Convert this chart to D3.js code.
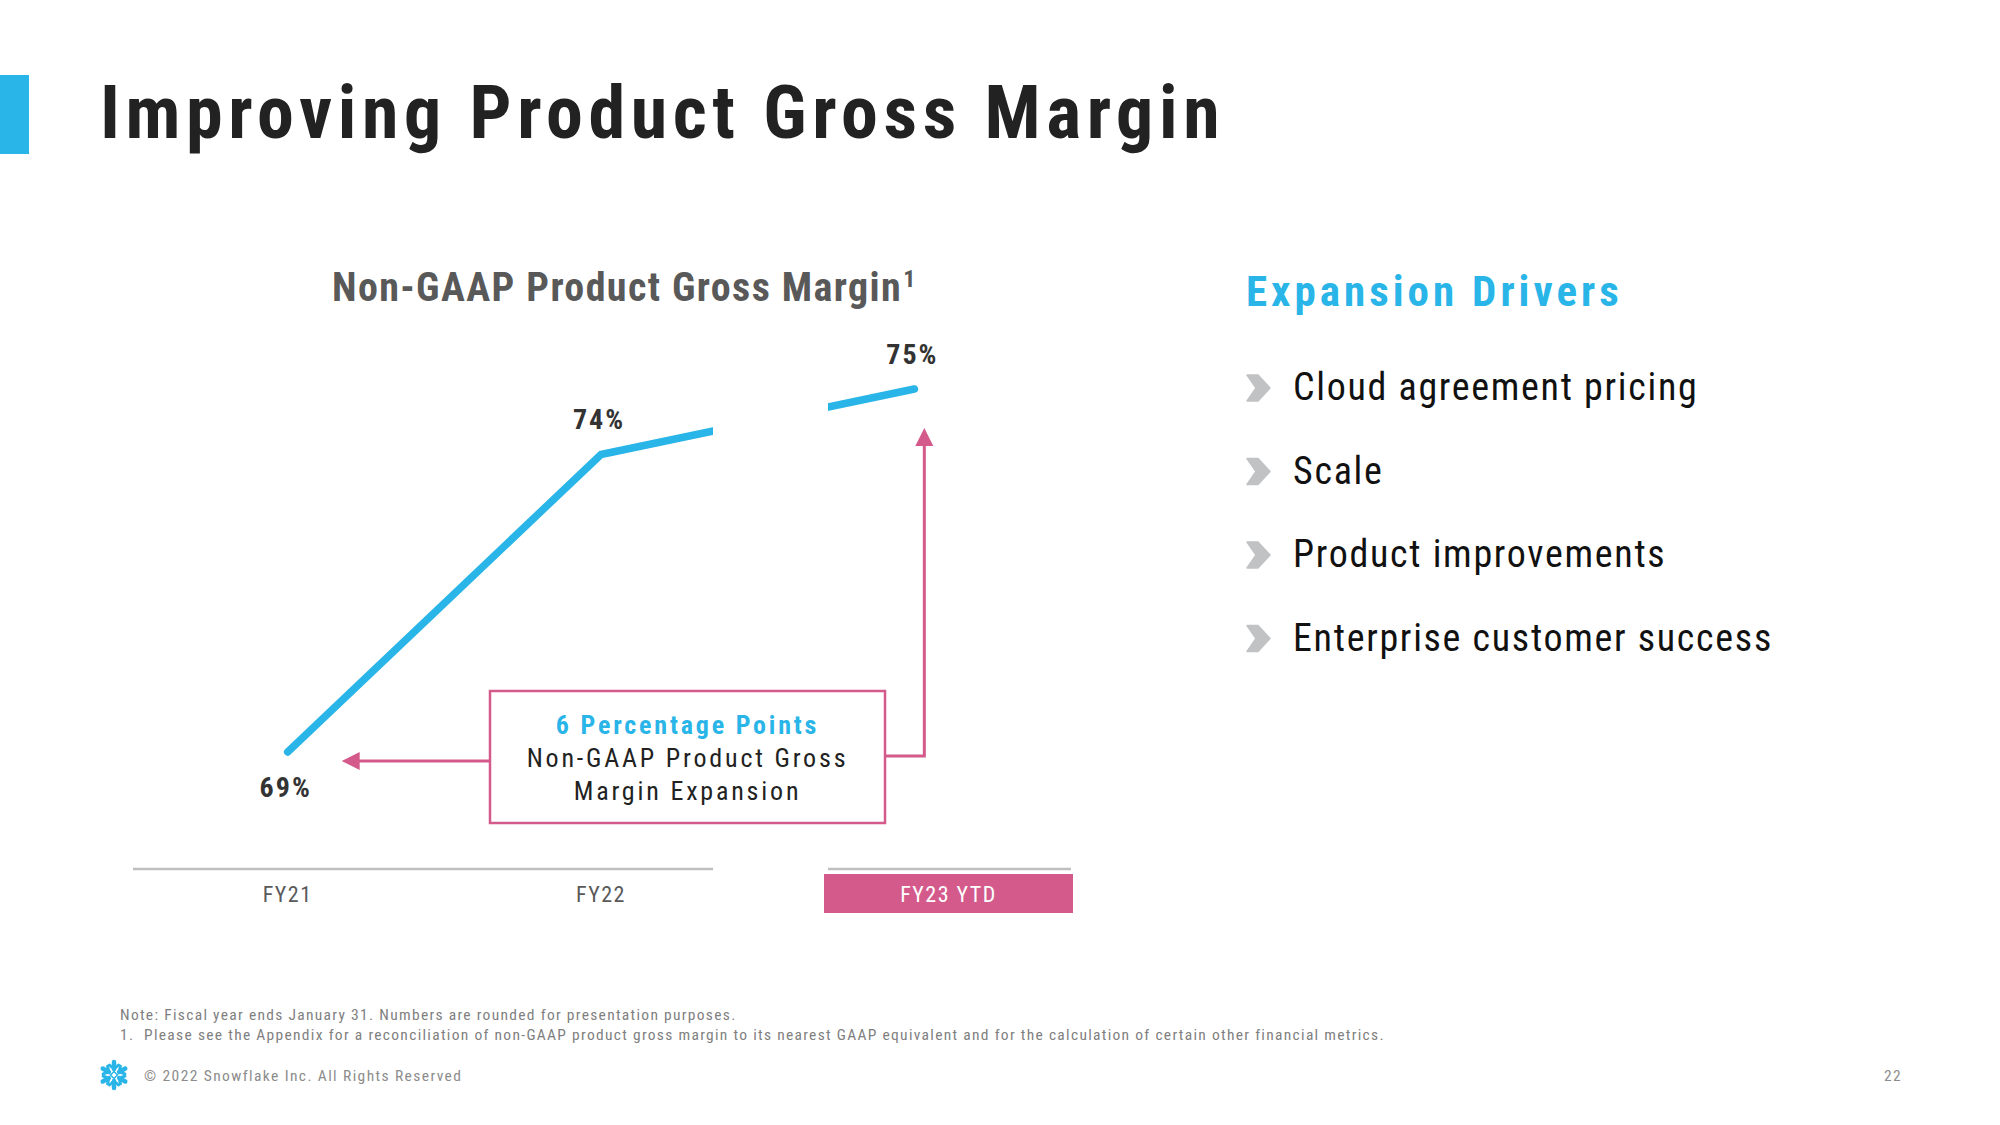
<!DOCTYPE html>
<html>
<head>
<meta charset="utf-8">
<script src="https://cdn.jsdelivr.net/npm/d3@7"></script>
<style>
  html, body { margin: 0; padding: 0; background: #ffffff; }
  svg { display: block; }
</style>
</head>
<body>
<svg id="chart" width="2000" height="1125"></svg>
<script>
// ---------- data ----------
const categories = ["FY21", "FY22", "FY23 YTD"];
const margins = [69, 74, 75.1];
const marginLabels = ["69%", "74%", "75%"];
const drivers = ["Cloud agreement pricing", "Scale", "Product improvements", "Enterprise customer success"];
const pageTitle = "Improving Product Gross Margin";
const chartTitle = "Non-GAAP Product Gross Margin";
const calloutLines = ["6 Percentage Points", "Non-GAAP Product Gross", "Margin Expansion"];
const notes = [
  "Note: Fiscal year ends January 31. Numbers are rounded for presentation purposes.",
  "1.\u00A0 Please see the Appendix for a reconciliation of non-GAAP product gross margin to its nearest GAAP equivalent and for the calculation of certain other financial metrics."
];
const copyright = "\u00A9 2022 Snowflake Inc. All Rights Reserved";
const pageNumber = "22";

// ---------- styles ----------
const FONT = "'Liberation Sans Narrow', 'Arial Narrow', 'Roboto Condensed', 'Liberation Sans', Arial, sans-serif";
const BLUE = "#29b5e8";
const PINK = "#d45a8c";
const DARK = "#222222";
const GREY = "#595959";

const svg = d3.select("#chart");

// accent bar + page title
svg.append("rect").attr("x", 0).attr("y", 75).attr("width", 29).attr("height", 79).attr("fill", BLUE);
svg.append("text").attr("x", 100).attr("y", 138)
  .attr("font-family", FONT).attr("font-weight", "bold").attr("font-size", 74)
  .attr("letter-spacing", 5.6).attr("fill", DARK).text(pageTitle);

// chart title
const ct = svg.append("text").attr("x", 332).attr("y", 301)
  .attr("font-family", FONT).attr("font-weight", "bold").attr("font-size", 40)
  .attr("letter-spacing", 1.4).attr("fill", GREY);
ct.append("tspan").text(chartTitle);
ct.append("tspan").attr("dx", 1).attr("dy", -14).attr("font-size", 24).text("1");

// scales
const x = d3.scaleBand().domain(categories).range([131, 1071]).padding(0);
const cx = c => x(c) + x.bandwidth() / 2;
const y = d3.scaleLinear().domain([69, 75.1]).range([752, 389]);

const pts = categories.map((c, i) => ({ c, v: margins[i], label: marginLabels[i] }));

// axis (broken)
const axisY = 869;
const gapL = 713, gapR = 828;
svg.append("line").attr("x1", 133).attr("x2", gapL).attr("y1", axisY).attr("y2", axisY)
  .attr("stroke", "#bfbfbf").attr("stroke-width", 2.5);
svg.append("line").attr("x1", gapR).attr("x2", x.range()[1]).attr("y1", axisY).attr("y2", axisY)
  .attr("stroke", "#bfbfbf").attr("stroke-width", 2.5);

// highlighted category background
const hlX0 = gapR - 4, hlX1 = x.range()[1] + 2;
svg.append("rect").attr("x", hlX0).attr("y", 874)
  .attr("width", hlX1 - hlX0).attr("height", 39).attr("fill", PINK);

// category labels
svg.selectAll(".cat").data(categories).enter().append("text")
  .attr("x", d => d === "FY23 YTD" ? (hlX0 + hlX1) / 2 : cx(d)).attr("y", 902)
  .attr("text-anchor", "middle").attr("font-family", FONT).attr("font-size", 22)
  .attr("letter-spacing", 1.5)
  .attr("fill", d => d === "FY23 YTD" ? "#ffffff" : GREY).text(d => d);

// line
const line = d3.line().x(d => cx(d.c)).y(d => y(d.v));
svg.append("path").datum(pts).attr("d", line)
  .attr("fill", "none").attr("stroke", BLUE).attr("stroke-width", 7.5)
  .attr("stroke-linecap", "round").attr("stroke-linejoin", "round");
// break in the line
svg.append("rect").attr("x", gapL).attr("y", 380).attr("width", gapR - gapL).attr("height", 80).attr("fill", "#ffffff");

// value labels
svg.selectAll(".val").data(pts).enter().append("text")
  .attr("x", d => cx(d.c) - 2)
  .attr("y", (d, i) => i === 0 ? y(d.v) + 45 : y(d.v) - 25)
  .attr("text-anchor", "middle").attr("font-family", FONT).attr("font-weight", "bold")
  .attr("font-size", 28).attr("letter-spacing", 2).attr("fill", "#333333").text(d => d.label);

// callout box
const bx = 490, by = 691, bw = 395, bh = 132;
svg.append("rect").attr("x", bx).attr("y", by).attr("width", bw).attr("height", bh)
  .attr("fill", "#ffffff").attr("stroke", PINK).attr("stroke-width", 2.5);
svg.selectAll(".co").data(calloutLines).enter().append("text")
  .attr("x", bx + bw / 2).attr("y", (d, i) => 734 + i * 33)
  .attr("text-anchor", "middle").attr("font-family", FONT)
  .attr("font-weight", (d, i) => i === 0 ? "bold" : "normal")
  .attr("font-size", 26).attr("letter-spacing", 2.8)
  .attr("fill", (d, i) => i === 0 ? BLUE : DARK).text(d => d);

// left arrow (to FY21)
const ay = 761;
svg.append("line").attr("x1", bx).attr("x2", cx("FY21") + 68).attr("y1", ay).attr("y2", ay)
  .attr("stroke", PINK).attr("stroke-width", 3);
svg.append("path").attr("d", `M${cx("FY21") + 54},${ay} l18,-9 l0,18 z`).attr("fill", PINK);

// right connector arrow (to FY23)
const rx = cx("FY23 YTD") + 10, ry = 756;
svg.append("path").attr("d", `M${bx + bw},${ry} H${rx} V${y(75.1) + 55}`)
  .attr("fill", "none").attr("stroke", PINK).attr("stroke-width", 3);
svg.append("path").attr("d", `M${rx},${y(75.1) + 39} l-9,18 l18,0 z`).attr("fill", PINK);

// Expansion drivers
svg.append("text").attr("x", 1246).attr("y", 306)
  .attr("font-family", FONT).attr("font-weight", "bold").attr("font-size", 43)
  .attr("letter-spacing", 4.0).attr("fill", BLUE).text("Expansion Drivers");
const dg = svg.selectAll(".drv").data(drivers).enter().append("g")
  .attr("transform", (d, i) => `translate(0, ${400 + i * 83.5})`);
dg.append("path").attr("d", "M1247,-25 L1258,-25 L1270,-12 L1258,1 L1247,1 L1256,-12 Z")
  .attr("fill", "#c0c2c4").attr("stroke", "#c0c2c4").attr("stroke-width", 1.5).attr("stroke-linejoin", "round");
dg.append("text").attr("x", 1293).attr("y", 0)
  .attr("font-family", FONT).attr("font-size", 38).attr("letter-spacing", 1.7)
  .attr("fill", "#111111").text(d => d);

// footnotes
svg.selectAll(".note").data(notes).enter().append("text")
  .attr("x", 120).attr("y", (d, i) => 1020 + i * 20)
  .attr("font-family", FONT).attr("font-size", 15.5).attr("letter-spacing", 1.3)
  .attr("fill", "#7f7f7f").text(d => d);
svg.append("text").attr("x", 144).attr("y", 1081)
  .attr("font-family", FONT).attr("font-size", 15.5).attr("letter-spacing", 1.4)
  .attr("fill", "#8c8c8c").text(copyright);
svg.append("text").attr("x", 1893).attr("y", 1081).attr("text-anchor", "middle")
  .attr("font-family", FONT).attr("font-size", 15.5).attr("letter-spacing", 1.4)
  .attr("fill", "#8c8c8c").text(pageNumber);

// snowflake logo
const logo = svg.append("g").attr("transform", "translate(114,1075)");
d3.range(6).forEach(k => {
  const a = k * 60;
  const arm = logo.append("g").attr("transform", `rotate(${a})`);
  arm.append("line").attr("x1", 0).attr("y1", -6).attr("x2", 0).attr("y2", -13)
    .attr("stroke", BLUE).attr("stroke-width", 4.5).attr("stroke-linecap", "round");
  arm.append("path").attr("d", "M-4.5,-10 L0,-6 L4.5,-10").attr("fill", "none")
    .attr("stroke", BLUE).attr("stroke-width", 3).attr("stroke-linecap", "round");
});
logo.append("path").attr("d", "M0,-3.5 L3.5,0 L0,3.5 L-3.5,0 Z").attr("fill", "none")
  .attr("stroke", BLUE).attr("stroke-width", 1.5);
</script>
</body>
</html>
